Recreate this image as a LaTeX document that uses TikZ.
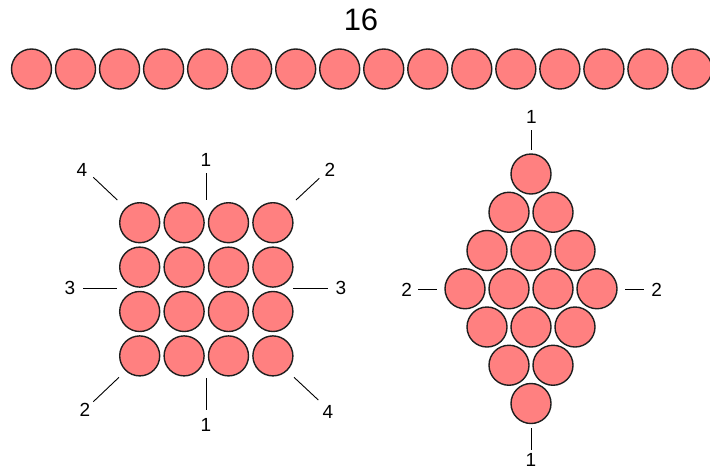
\documentclass[tikz,border=0pt]{standalone}
\usepackage{fontspec}
\setmainfont{Liberation Sans}
\definecolor{ballfill}{RGB}{255,128,128}
\definecolor{rim}{RGB}{30,30,30}
\begin{document}
\begin{tikzpicture}[x=1pt,y=-1pt,
  ball/.style={circle,draw=rim,fill=ballfill,line width=1.4pt,minimum size=40pt,inner sep=0pt},
  lbl/.style={font=\fontsize{19}{19}\selectfont,inner sep=0pt},
  title/.style={font=\fontsize{31}{31}\selectfont,inner sep=0pt},
  tick/.style={line width=0.9pt,draw=black}]
\useasboundingbox (0,0) rectangle (710,472);
% title
\node[title] (t16) at (361,19.5) {16};
% top row
\foreach \k in {0,...,15}{
  \node[ball] (b\k) at ({31.5+44.03*\k},69) {};
}
% square grid
\foreach \r in {0,...,3}{
  \foreach \c in {0,...,3}{
    \node[ball] (s-\r-\c) at ({139.7+44.4*\c},{222.7+44.4*\r}) {};
  }
}
% square labels
\node[lbl] (sl1t) at (206,160) {1};
\node[lbl] (sl1b) at (206,425) {1};
\node[lbl] (sl4tl) at (82,170) {4};
\node[lbl] (sl4br) at (328,411.7) {4};
\node[lbl] (sl2tr) at (330,170) {2};
\node[lbl] (sl2bl) at (85,410) {2};
\node[lbl] (sl3l) at (70,288.3) {3};
\node[lbl] (sl3r) at (341,288.3) {3};
\coordinate (a1) at (206,173);   \coordinate (a2) at (206,200);
\coordinate (b1x) at (206,378.3); \coordinate (b2x) at (206,410);
\coordinate (c1) at (93.3,177.3); \coordinate (c2) at (117.3,200);
\coordinate (d1) at (319.3,178.3); \coordinate (d2) at (296,200);
\coordinate (e1) at (83.3,288.3); \coordinate (e2) at (117.3,288.3);
\coordinate (f1) at (293.3,288.3); \coordinate (f2) at (328.3,288.3);
\coordinate (g1) at (93.3,401.7); \coordinate (g2) at (119,377.3);
\coordinate (h1) at (294,377.3); \coordinate (h2) at (318.3,400);
\draw[tick] (a1) -- (a2);
\draw[tick] (b1x) -- (b2x);
\draw[tick] (c1) -- (c2);
\draw[tick] (d1) -- (d2);
\draw[tick] (e1) -- (e2);
\draw[tick] (f1) -- (f2);
\draw[tick] (g1) -- (g2);
\draw[tick] (h1) -- (h2);
% diamond
\foreach \i in {0,...,6}{
  \pgfmathtruncatemacro\n{4-abs(\i-3)}
  \foreach \j in {1,...,\n}{
    \node[ball] (d-\i-\j) at ({531+(\j-(\n+1)/2)*44},{174+\i*38.25}) {};
  }
}
\node[lbl] (dl1t) at (531.5,116.7) {1};
\node[lbl] (dl1b) at (531,460) {1};
\node[lbl] (dl2l) at (406.7,290) {2};
\node[lbl] (dl2r) at (656.7,290) {2};
\coordinate (p1) at (531,130);   \coordinate (p2) at (531,150);
\coordinate (q1) at (531,428.3); \coordinate (q2) at (531,450);
\coordinate (u1) at (418.3,289.5); \coordinate (u2) at (437.3,289.5);
\coordinate (v1) at (625,289.5); \coordinate (v2) at (644.3,289.5);
\draw[tick] (p1) -- (p2);
\draw[tick] (q1) -- (q2);
\draw[tick] (u1) -- (u2);
\draw[tick] (v1) -- (v2);
\end{tikzpicture}
\end{document}
